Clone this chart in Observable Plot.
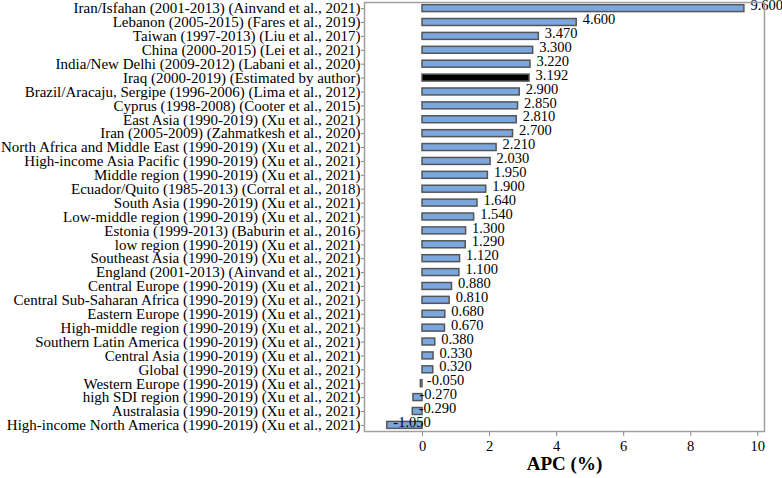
<!DOCTYPE html>
<html>
<head>
<meta charset="utf-8">
<script src="https://cdn.jsdelivr.net/npm/d3@7"></script>
<script src="https://cdn.jsdelivr.net/npm/@observablehq/plot@0.6"></script>
<style>
  body { margin: 0; background: #fff; }
  #chart svg { display: block; }
</style>
</head>
<body>
<div id="chart"></div>
<script>
const categories = [
  "Iran/Isfahan (2001-2013) (Ainvand et al., 2021)",
  "Lebanon (2005-2015) (Fares et al., 2019)",
  "Taiwan (1997-2013) (Liu et al., 2017)",
  "China (2000-2015) (Lei et al., 2021)",
  "India/New Delhi (2009-2012) (Labani et al., 2020)",
  "Iraq (2000-2019) (Estimated by author)",
  "Brazil/Aracaju, Sergipe (1996-2006) (Lima et al., 2012)",
  "Cyprus (1998-2008) (Cooter et al., 2015)",
  "East Asia (1990-2019) (Xu et al., 2021)",
  "Iran (2005-2009) (Zahmatkesh et al., 2020)",
  "North Africa and Middle East (1990-2019) (Xu et al., 2021)",
  "High-income Asia Pacific (1990-2019) (Xu et al., 2021)",
  "Middle region (1990-2019) (Xu et al., 2021)",
  "Ecuador/Quito (1985-2013) (Corral et al., 2018)",
  "South Asia (1990-2019) (Xu et al., 2021)",
  "Low-middle region (1990-2019) (Xu et al., 2021)",
  "Estonia (1999-2013) (Baburin et al., 2016)",
  "low region (1990-2019) (Xu et al., 2021)",
  "Southeast Asia (1990-2019) (Xu et al., 2021)",
  "England (2001-2013) (Ainvand et al., 2021)",
  "Central Europe (1990-2019) (Xu et al., 2021)",
  "Central Sub-Saharan Africa (1990-2019) (Xu et al., 2021)",
  "Eastern Europe (1990-2019) (Xu et al., 2021)",
  "High-middle region (1990-2019) (Xu et al., 2021)",
  "Southern Latin America (1990-2019) (Xu et al., 2021)",
  "Central Asia (1990-2019) (Xu et al., 2021)",
  "Global (1990-2019) (Xu et al., 2021)",
  "Western Europe (1990-2019) (Xu et al., 2021)",
  "high SDI region (1990-2019) (Xu et al., 2021)",
  "Australasia (1990-2019) (Xu et al., 2021)",
  "High-income North America (1990-2019) (Xu et al., 2021)"
];
const apc = [9.6, 4.6, 3.47, 3.3, 3.22, 3.192, 2.9, 2.85, 2.81, 2.7, 2.21, 2.03, 1.95, 1.9, 1.64, 1.54, 1.3, 1.29, 1.12, 1.1, 0.88, 0.81, 0.68, 0.67, 0.38, 0.33, 0.32, -0.05, -0.27, -0.29, -1.05];
const highlight = "Iraq (2000-2019) (Estimated by author)";
const xTicks = [0, 2, 4, 6, 8, 10];

const data = categories.map((c, i) => ({name: c, value: apc[i]}));
const font = "'Liberation Serif', 'Times New Roman', serif";

const chart = Plot.plot({
  width: 782,
  height: 478,
  marginLeft: 364,
  marginRight: 18,
  marginTop: 2,
  marginBottom: 47,
  style: {fontFamily: font, fontSize: "15px", color: "#000", background: "#fff"},
  x: {domain: [-1.73, 10.2], ticks: xTicks},
  y: {domain: categories, paddingInner: 0.5, paddingOuter: 0.19, round: false},
  marks: [
    Plot.barX(data, {
      x1: 0, x2: "value", y: "name",
      fill: d => d.name === highlight ? "#000" : "#7ba7df",
      stroke: "#555", strokeWidth: 1.5
    }),
    Plot.text(data, {
      x: "value", y: "name", text: d => d.value.toFixed(3),
      textAnchor: "start", dx: 6, dy: -3, fontSize: 14.5, fill: "#000"
    }),
    Plot.frame({stroke: "#a0a0a0", strokeWidth: 1.5}),
    Plot.axisY({tickSize: 3, tickPadding: 1, label: null, stroke: "#888", fontSize: 15}),
    Plot.axisX({ticks: xTicks, tickSize: 5, tickPadding: 4, label: null, stroke: "#888", fontSize: 14.5}),
    Plot.text(["APC (%)"], {
      frameAnchor: "bottom", dy: 38, fontSize: 19, fontWeight: "bold", fill: "#000"
    })
  ]
});
document.getElementById("chart").appendChild(chart);
</script>
</body>
</html>
